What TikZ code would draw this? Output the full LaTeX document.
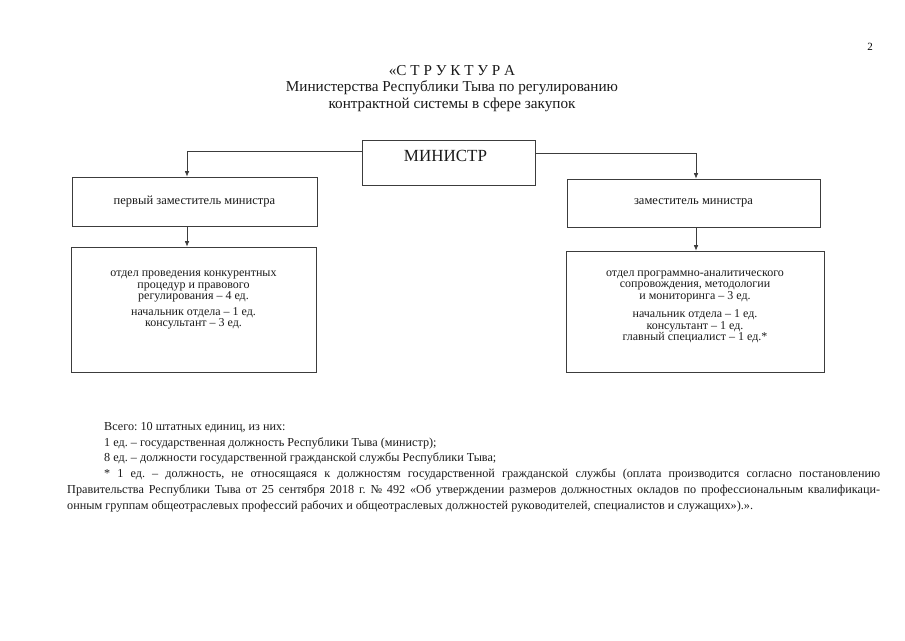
\documentclass[tikz,border=0pt]{standalone}
\usepackage{fontspec}
\setmainfont{Liberation Serif}
\usetikzlibrary{arrows.meta,positioning}
\definecolor{Ink}{HTML}{1A1A1A}
\definecolor{Frame}{HTML}{3C3C3C}
\frenchspacing

\begin{document}
\begin{tikzpicture}[
  x=1pt,y=-1pt,
  box/.style={draw=Frame,line width=0.7pt,align=center,inner sep=0pt,text=Ink,
    font=\fontsize{12}{11.5}\selectfont},
  rankbox/.style={box,font=\fontsize{12.5}{14}\selectfont},
  headbox/.style={box,font=\fontsize{17}{19}\selectfont},
  title/.style={align=center,font=\fontsize{15.2}{16.5}\selectfont,text=Ink},
  note/.style={anchor=base west,inner sep=0pt,font=\fontsize{12.2}{16}\selectfont,text=Ink},
  arrow/.style={-{Latex[length=5.5pt,width=4.5pt]},line width=0.7pt,color=Frame}
]
  \useasboundingbox (0,0) rectangle (905,640);

  \node[anchor=base,font=\fontsize{11}{13}\selectfont] (page) at (870,50) {2};
  \node[title,anchor=base] (head) at (452,108) {«С~Т~Р~У~К~Т~У~Р~А\\
    Министерства Республики Тыва по регулированию\\
    контрактной системы в сфере закупок};

  \node[headbox,minimum width=173pt,text height=17pt,text depth=20pt,inner ysep=4pt] (min) at (448.5,163) {МИНИСТР\hspace*{6pt}};
  \node[rankbox,minimum width=245pt,minimum height=49pt] (fdep) at (194.5,201.5) {первый заместитель министра};
  \node[rankbox,minimum width=253pt,minimum height=48pt] (dep) at (693.5,203) {заместитель министра};
  \node[box,minimum width=245pt,minimum height=125pt] (otd1) at (193.5,309.5)
    {отдел проведения конкурентных\\процедур и правового\\регулирования – 4 ед.\\[4pt]
     начальник отдела – 1 ед.\\консультант – 3 ед.\\[10pt]\mbox{}};
  \node[box,minimum width=258pt,minimum height=121pt] (otd2) at (695,311.5)
    {отдел программно-аналитического\\сопровождения, методологии\\и мониторинга – 3 ед.\\[7pt]
     начальник отдела – 1 ед.\\консультант – 1 ед.\\главный специалист – 1 ед.*\\[0pt]\mbox{}};

  \draw[arrow] ([yshift=12pt]min.west) -| ([xshift=-7.5pt]fdep.north);
  \draw[arrow] ([yshift=10pt]min.east) -| ([xshift=2.5pt]dep.north);
  \draw[arrow] ([xshift=-7.5pt]fdep.south) -- ([xshift=-7.5pt]fdep.south |- otd1.north);
  \draw[arrow] ([xshift=2.5pt]dep.south) -- ([xshift=2.5pt]dep.south |- otd2.north);

  \node[note] (sum) at (104,430) {Всего: 10 штатных единиц, из них:};
  \node[note] (gos) at (104,446) {1 ед. – государственная должность Республики Тыва (министр);};
  \node[note] (gras) at (104,461) {8 ед. – должности государственной гражданской службы Республики Тыва;};
  \node[note] (star) at (104,477) {\makebox[776pt][s]{* 1 ед. – должность, не относящаяся к должностям государственной гражданской службы (оплата производится согласно постановлению}};
  \node[note] (prav) at (67,493) {\makebox[813pt][s]{Правительства Республики Тыва от 25 сентября 2018 г. № 492 «Об утверждении размеров должностных окладов по профессиональным квалификаци-}};
  \node[note] (grp) at (67,509) {онным группам общеотраслевых профессий рабочих и общеотраслевых должностей руководителей, специалистов и служащих»).».};
\end{tikzpicture}
\end{document}
